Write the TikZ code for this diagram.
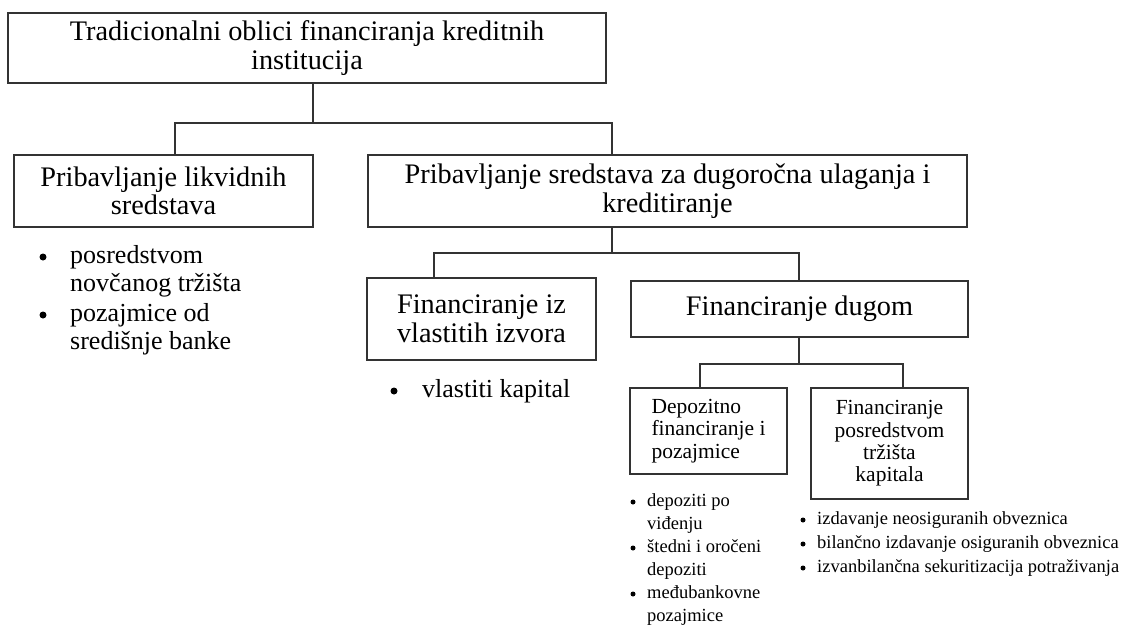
\documentclass[tikz,border=0pt]{standalone}
\usepackage{fontspec}
\setmainfont{Liberation Serif}
\begin{document}
\begin{tikzpicture}[x=1pt,y=-1pt,
  box/.style={draw=black!80, line width=1.5pt, inner sep=0pt, align=center, font=\fontsize{28.3}{28.5}\selectfont},
  sbox/.style={draw=black!80, line width=1.5pt, inner sep=0pt, font=\fontsize{21.5}{22.4}\selectfont},
  conn/.style={draw=black!80, line width=1.5pt},
  bigl/.style={anchor=base west, inner sep=0pt, align=left, font=\fontsize{26}{28.5}\selectfont},
  smalll/.style={anchor=base west, inner sep=0pt, align=left, font=\fontsize{18.5}{23}\selectfont},
  bbul/.style={circle, fill=black, inner sep=0pt, minimum size=7pt},
  sbul/.style={circle, fill=black, inner sep=0pt, minimum size=5pt}]
\useasboundingbox (0,0) rectangle (1132,626);
% boxes
\node[box, minimum width=598pt, minimum height=70pt] (top) at (307,48) {Tradicionalni oblici financiranja kreditnih\\institucija};
\node[box, minimum width=299pt, minimum height=72pt] (l1) at (163.5,191) {Pribavljanje likvidnih\\sredstava};
\node[box, minimum width=599pt, minimum height=72pt] (r1) at (667.5,191) {Pribavljanje sredstava za dugoročna ulaganja i\\kreditiranje};
\node[box, minimum width=229pt, minimum height=82pt] (fiz) at (481.5,319) {Financiranje iz\\vlastitih izvora};
\node[box, minimum width=337pt, minimum height=56pt] (dug) at (799.5,309) {Financiranje dugom};
\node[sbox, align=left, minimum width=157pt, minimum height=86pt] (dep) at (708.5,431) {Depozitno\\financiranje i\\pozajmice};
\node[sbox, align=center, minimum width=157pt, minimum height=111pt] (ftk) at (889.5,443.5) {Financiranje\\posredstvom\\tržišta\\kapitala};
% junctions
\coordinate (j1) at (313,123);
\coordinate (j1l) at (175,123);
\coordinate (j1r) at (612,123);
\coordinate (j2) at (612,253);
\coordinate (j2l) at (434,253);
\coordinate (j2r) at (799,253);
\coordinate (j3) at (799,364);
\coordinate (j3l) at (700,364);
\coordinate (j3r) at (903,364);
% connectors
\draw[conn] (top.south -| j1) -- (j1);
\draw[conn] (l1.north -| j1l) -- (j1l) -- (j1r) -- (r1.north -| j1r);
\draw[conn] (r1.south -| j2) -- (j2);
\draw[conn] (fiz.north -| j2l) -- (j2l) -- (j2r) -- (dug.north -| j2r);
\draw[conn] (dug.south -| j3) -- (j3);
\draw[conn] (dep.north -| j3l) -- (j3l) -- (j3r) -- (ftk.north -| j3r);
% lists (anchor = baseline of the last line)
\node[bbul] (b1) at (43,257) {};
\node[bigl] (t1) at (70,291.5) {posredstvom\\novčanog tržišta};
\node[bbul] (b2) at (43,315) {};
\node[bigl] (t2) at (70,349.5) {pozajmice od\\središnje banke};
\node[bbul] (b3) at (394,391) {};
\node[bigl] (t3) at (422,397) {vlastiti kapital};
\node[sbul] (b4) at (633,502) {};
\node[smalll] (t4) at (647,529.3) {depoziti po\\viđenju};
\node[sbul] (b5) at (633,548) {};
\node[smalll] (t5) at (647,575.3) {štedni i oročeni\\depoziti};
\node[sbul] (b6) at (633,594) {};
\node[smalll] (t6) at (647,621.3) {međubankovne\\pozajmice};
\node[sbul] (b7) at (803,520) {};
\node[smalll] (t7) at (817,524.3) {izdavanje neosiguranih obveznica};
\node[sbul] (b8) at (803,544) {};
\node[smalll] (t8) at (817,548.3) {bilančno izdavanje osiguranih obveznica};
\node[sbul] (b9) at (803,568) {};
\node[smalll] (t9) at (817,572.3) {izvanbilančna sekuritizacija potraživanja};
\end{tikzpicture}
\end{document}
